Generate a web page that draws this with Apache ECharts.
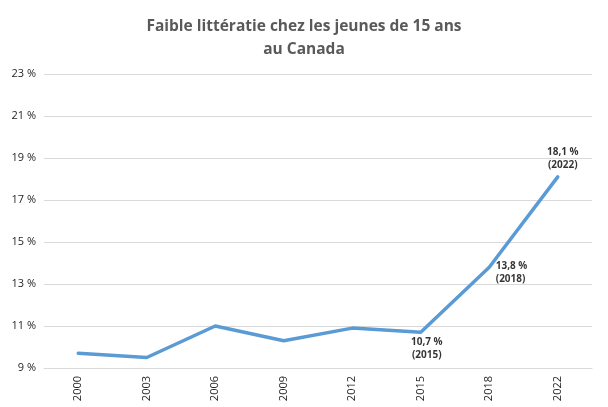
<!DOCTYPE html>
<html>
<head>
<meta charset="utf-8">
<script src="https://cdn.jsdelivr.net/npm/echarts@6/dist/echarts.min.js"></script>
<style>html,body{margin:0;padding:0;background:#fff}#c{width:608px;height:407px}</style>
</head>
<body>
<div id="c"></div>
<script>
const years = ['2000','2003','2006','2009','2012','2015','2018','2022'];
const values = [9.7, 9.5, 11.0, 10.3, 10.9, 10.7, 13.8, 18.1];
const labelledYears = ['2015','2018','2022'];
const yTicks = [9, 11, 13, 15, 17, 19, 21, 23];

const labelPos = {
  '2015': {position: 'bottom', distance: 3, offset: [6, 0], align: 'center'},
  '2018': {position: 'right', distance: 6, offset: [0, 5], align: 'left'},
  '2022': {position: 'top', distance: 5, offset: [5, 0], align: 'center'}
};

const fmt = (v, y) => v.toFixed(1).replace('.', ',') + ' %\n(' + y + ')';

const chart = echarts.init(document.getElementById('c'));
chart.setOption({
  animation: false,
  title: {
    text: 'Faible littératie chez les jeunes de 15 ans\nau Canada',
    left: 'center',
    top: 10,
    textStyle: {
      fontFamily: 'Open Sans',
      fontWeight: 'bold',
      fontSize: 15.5,
      color: '#595959',
      lineHeight: 23
    }
  },
  grid: {left: 44, right: 16, top: 74, bottom: 39},
  xAxis: {
    type: 'category',
    data: years,
    boundaryGap: true,
    axisLine: {show: true, lineStyle: {color: '#d9d9d9'}},
    axisTick: {show: false},
    axisLabel: {
      rotate: 90,
      fontFamily: 'Open Sans',
      fontSize: 11,
      color: '#262626',
      margin: 8
    }
  },
  yAxis: {
    type: 'value',
    min: yTicks[0],
    max: yTicks[yTicks.length - 1],
    interval: 2,
    axisLine: {show: false},
    axisTick: {show: false},
    splitLine: {lineStyle: {color: '#d9d9d9', width: 1}},
    axisLabel: {
      formatter: v => v + ' %',
      fontFamily: 'Open Sans',
      fontSize: 11,
      color: '#262626',
      margin: 8
    }
  },
  series: [{
    type: 'line',
    data: values,
    showSymbol: false,
    symbol: 'none',
    lineStyle: {color: '#5B9BD5', width: 3.5, cap: 'round', join: 'round'},
    itemStyle: {color: '#5B9BD5'},
    z: 2
  }, {
    type: 'scatter',
    data: values.map((v, i) => {
      const y = years[i];
      if (labelledYears.indexOf(y) < 0) return '-';
      return {
        value: v,
        label: Object.assign({
          show: true,
          formatter: fmt(v, y),
          fontFamily: 'Open Sans',
          fontWeight: 'bold',
          fontSize: 10,
          color: '#000',
          lineHeight: 13
        }, labelPos[y])
      };
    }),
    symbolSize: 1,
    itemStyle: {color: '#5B9BD5'},
    silent: true,
    z: 3
  }]
});
</script>
</body>
</html>
